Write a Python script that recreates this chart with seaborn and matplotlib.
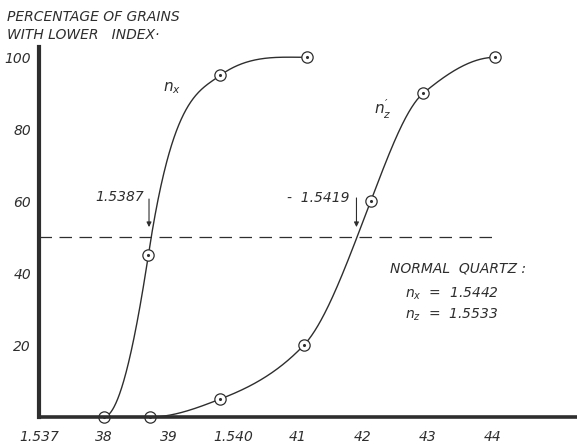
import numpy as np
import matplotlib
matplotlib.use("Agg")
import matplotlib.pyplot as plt
import seaborn as sns

# refractive index vs. percentage of grains with lower index
nx_index = [1.5380, 1.53869, 1.5398, 1.54113]
nx_pct = [0, 45, 95, 100]
# tangent of the hand-drawn curve at each point, in % per 0.001 of index
nx_slope = [0, 118, 13, 0]

nz_index = [1.53872, 1.5398, 1.54109, 1.54212, 1.54293, 1.54404]
nz_pct = [0, 5, 20, 60, 90, 100]
nz_slope = [0, 7, 19, 47, 15, 0]

x_ticks = [1.537, 1.538, 1.539, 1.540, 1.541, 1.542, 1.543, 1.544]
x_ticklabels = ["1.537", "38", "39", "1.540", "41", "42", "43", "44"]
y_ticks = [20, 40, 60, 80, 100]
y_minor = [10, 30, 50, 70, 90]

half = 50
nx_median = 1.5387
nz_median = 1.5419
normal_nx = "1.5442"
normal_nz = "1.5533"

ink = "#2e2e2e"


def smooth_curve(x, y, slope, n=150):
    # cubic hermite through the points using the read-off tangents
    x = np.asarray(x, float)
    y = np.asarray(y, float)
    m = np.asarray(slope, float) * 1000
    h = np.diff(x)
    t = np.linspace(0, 1, n)
    h00 = 2 * t**3 - 3 * t**2 + 1
    h10 = t**3 - 2 * t**2 + t
    h01 = -2 * t**3 + 3 * t**2
    h11 = t**3 - t**2
    xs, ys = [], []
    for k in range(len(h)):
        xs.append(x[k] + t * h[k])
        ys.append(h00 * y[k] + h10 * h[k] * m[k] + h01 * y[k + 1] + h11 * h[k] * m[k + 1])
    return np.concatenate(xs), np.concatenate(ys)


sns.set_style("white")
plt.rcParams["font.family"] = ["Liberation Sans Narrow", "DejaVu Sans"]
plt.rcParams["font.style"] = "italic"
plt.rcParams["mathtext.fontset"] = "custom"
plt.rcParams["mathtext.it"] = "Liberation Sans Narrow:italic"
plt.rcParams["mathtext.rm"] = "Liberation Sans Narrow:italic"
plt.rcParams["text.color"] = ink

fig = plt.figure(figsize=(5.77, 4.44), dpi=100)
ax = fig.add_axes([38.8 / 577, 27 / 444, 1 - 38.8 / 577, 370 / 444])

for xi, yi, si in [(nx_index, nx_pct, nx_slope), (nz_index, nz_pct, nz_slope)]:
    cx, cy = smooth_curve(xi, yi, si)
    sns.lineplot(x=cx, y=cy, ax=ax, color=ink, lw=1.0, sort=False, estimator=None)
    sns.scatterplot(x=xi, y=yi, ax=ax, marker="o", s=66, facecolor="white",
                    edgecolor=ink, linewidth=0.9, zorder=2.4, clip_on=False)
    sns.scatterplot(x=xi, y=yi, ax=ax, marker="o", s=5, color=ink,
                    linewidth=0, zorder=2.45, clip_on=False)

ax.hlines(half, x_ticks[0], nz_index[-1], color=ink, lw=0.9, linestyle=(0, (10, 6)))

arrow = dict(arrowstyle="-|>", color=ink, lw=0.8, mutation_scale=7, shrinkA=0, shrinkB=0)
ax.annotate("", xy=(nx_median, 52.8), xytext=(nx_median, 60.6), arrowprops=arrow)
ax.annotate("", xy=(nz_median, 52.8), xytext=(nz_median, 60.9), arrowprops=arrow)
ax.text(1.53862, 61.2, "1.5387", ha="right", va="center", fontsize=10)
ax.text(1.54179, 60.9, "-  1.5419", ha="right", va="center", fontsize=10)

ax.text(1.53905, 91.5, r"$n_x$", ha="center", va="center", fontsize=11)
ax.text(1.54231, 85.4, r"$n^{\prime}_{z}$", ha="center", va="center", fontsize=11)

ax.text(1.54242, 41.2, "NORMAL  QUARTZ :", ha="left", va="center", fontsize=10)
ax.text(1.54265, 34.2, r"$n_x$" + "  =  " + normal_nx, ha="left", va="center", fontsize=10)
ax.text(1.54265, 28.4, r"$n_z$" + "  =  " + normal_nz, ha="left", va="center", fontsize=10)

fig.text(7 / 577, 1 - 17 / 444, "PERCENTAGE OF GRAINS", ha="left", va="center", fontsize=10)
fig.text(7 / 577, 1 - 35 / 444, "WITH LOWER   INDEX\u00b7", ha="left", va="center", fontsize=10)

ax.set_xlim(1.537, 1.537 + (577 - 38.8) / 64830)
ax.set_ylim(0, 370 / 3.597)
ax.set_xticks(x_ticks)
ax.set_xticklabels(x_ticklabels)
ax.set_yticks(y_ticks)
ax.set_yticks(y_minor, minor=True)
ax.set_xlabel("")
ax.set_ylabel("")

ax.tick_params(axis="x", direction="in", length=4, width=1, pad=9, labelsize=10, colors=ink)
ax.tick_params(axis="y", which="both", direction="out", length=4, width=1, pad=1.5,
               labelsize=10, colors=ink)

sns.despine(ax=ax)
ax.spines["left"].set_linewidth(3)
ax.spines["bottom"].set_linewidth(2.6)
ax.spines["left"].set_color(ink)
ax.spines["bottom"].set_color(ink)

fig.savefig("out.png", dpi=100)
